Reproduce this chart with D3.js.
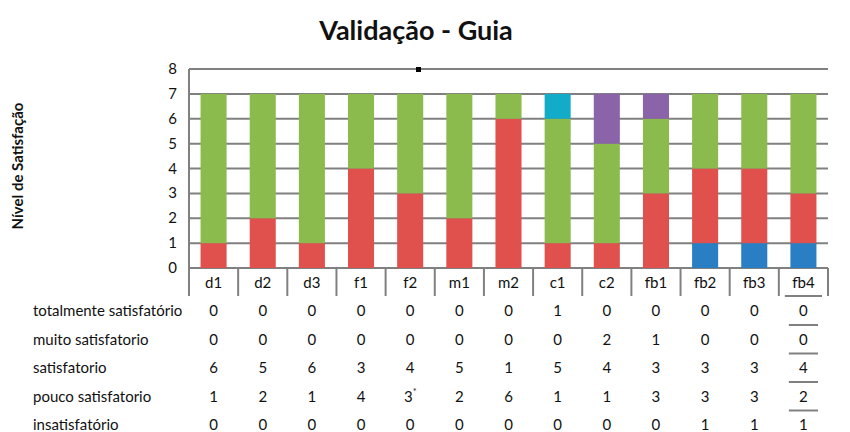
<!DOCTYPE html>
<html>
<head>
<meta charset="utf-8">
<script src="https://cdn.jsdelivr.net/npm/d3@7"></script>
<style>
  body { margin: 0; background: #fff; }
  text { font-family: Lato, "Open Sans", sans-serif; fill: #111; }
</style>
</head>
<body>
<div id="chart"></div>
<script>
var categories = ["d1", "d2", "d3", "f1", "f2", "m1", "m2", "c1", "c2", "fb1", "fb2", "fb3", "fb4"];
var totalmente = [0, 0, 0, 0, 0, 0, 0, 1, 0, 0, 0, 0, 0];
var muito = [0, 0, 0, 0, 0, 0, 0, 0, 2, 1, 0, 0, 0];
var satisfatorio = [6, 5, 6, 3, 4, 5, 1, 5, 4, 3, 3, 3, 4];
var pouco = [1, 2, 1, 4, 3, 2, 6, 1, 1, 3, 3, 3, 2];
var insatisfatorio = [0, 0, 0, 0, 0, 0, 0, 0, 0, 0, 1, 1, 1];
var yTicks = [0, 1, 2, 3, 4, 5, 6, 7, 8];

// table rows, top to bottom
var rows = [
  { name: "totalmente satisfatório", values: totalmente, color: "#12acc8" },
  { name: "muito satisfatorio", values: muito, color: "#8a63a8" },
  { name: "satisfatorio", values: satisfatorio, color: "#8bbb4c" },
  { name: "pouco satisfatorio", values: pouco, color: "#e0504d" },
  { name: "insatisfatório", values: insatisfatorio, color: "#2a7ec4" }
];

var width = 850, height = 432;
var plotLeft = 189, plotRight = 828, plotTop = 69, plotBottom = 268;
var labelRow = 296;

var svg = d3.select("#chart").append("svg")
    .attr("width", width)
    .attr("height", height);

var x = d3.scaleBand().domain(categories).range([plotLeft, plotRight]).paddingInner(0).paddingOuter(0);
var y = d3.scaleLinear().domain([0, 8]).range([plotBottom, plotTop]);
var barW = x.bandwidth() * 0.53;

// title
svg.append("text")
    .attr("x", 416).attr("y", 40)
    .attr("text-anchor", "middle")
    .style("font-size", "27px").style("font-weight", "bold")
    .text("Validação - Guia");

// y axis title
svg.append("text")
    .attr("transform", "translate(23,166) rotate(-90)")
    .attr("text-anchor", "middle")
    .style("font-size", "15px").style("font-weight", "bold")
    .text("Nível de Satisfação");

// grid lines
svg.append("g").selectAll("line").data(yTicks).enter()
    .append("line")
    .attr("x1", plotLeft).attr("x2", plotRight)
    .attr("y1", function(d) { return y(d); })
    .attr("y2", function(d) { return y(d); })
    .attr("stroke", "#808080").attr("stroke-width", 2);

// y tick labels
svg.append("g").selectAll("text").data(yTicks).enter()
    .append("text")
    .attr("x", 177)
    .attr("y", function(d) { return y(d) + 5; })
    .attr("text-anchor", "end")
    .style("font-size", "15px")
    .text(function(d) { return d; });

// stacked bars, bottom up
var stackOrder = rows.slice().reverse();
var stackData = categories.map(function(c, i) {
  var o = { cat: c };
  stackOrder.forEach(function(r) { o[r.name] = r.values[i]; });
  return o;
});
var series = d3.stack().keys(stackOrder.map(function(r) { return r.name; }))(stackData);

svg.append("g").selectAll("g").data(series).enter()
    .append("g")
    .attr("fill", function(s, i) { return stackOrder[i].color; })
    .selectAll("rect").data(function(s) { return s; }).enter()
    .append("rect")
    .attr("x", function(d) { return x(d.data.cat) + (x.bandwidth() - barW) / 2; })
    .attr("width", barW)
    .attr("y", function(d) { return y(d[1]); })
    .attr("height", function(d) { return y(d[0]) - y(d[1]); });

// marker on top line
svg.append("rect")
    .attr("x", 416).attr("y", 67).attr("width", 5).attr("height", 5)
    .attr("fill", "#000");

// axis frame: left line and category separators
svg.append("line")
    .attr("x1", plotLeft).attr("x2", plotLeft).attr("y1", plotTop).attr("y2", labelRow)
    .attr("stroke", "#808080").attr("stroke-width", 2);
svg.append("g").selectAll("line").data(categories).enter()
    .append("line")
    .attr("x1", function(d) { return x(d) + x.bandwidth(); })
    .attr("x2", function(d) { return x(d) + x.bandwidth(); })
    .attr("y1", plotBottom).attr("y2", labelRow)
    .attr("stroke", "#808080").attr("stroke-width", 2);

// category labels
svg.append("g").selectAll("text").data(categories).enter()
    .append("text")
    .attr("x", function(d) { return x(d) + x.bandwidth() / 2; })
    .attr("y", 288)
    .attr("text-anchor", "middle")
    .style("font-size", "15px")
    .text(function(d) { return d; });

// last column box bottom + underlines
var lastX = x("fb4");
svg.append("line")
    .attr("x1", lastX + 6).attr("x2", lastX + x.bandwidth() - 6)
    .attr("y1", labelRow).attr("y2", labelRow)
    .attr("stroke", "#808080").attr("stroke-width", 2);

// data table
var rowY0 = 316, rowStep = 28.5;
rows.forEach(function(r, ri) {
  var ry = rowY0 + ri * rowStep;
  svg.append("text")
      .attr("x", 33).attr("y", ry)
      .style("font-size", "15px")
      .text(r.name);
  var cells = svg.append("g").selectAll("text").data(r.values).enter()
      .append("text")
      .attr("x", function(d, i) { return x(categories[i]) + x.bandwidth() / 2; })
      .attr("y", ry)
      .attr("text-anchor", "middle")
      .style("font-size", "15px");
  cells.append("tspan").text(function(d) { return d; });
  cells.filter(function(d, i) { return r.name === "pouco satisfatorio" && categories[i] === "f2"; })
      .append("tspan")
      .attr("dy", -7)
      .style("font-size", "9px")
      .text("*");
  if (ri < rows.length - 1) {
    svg.append("line")
        .attr("x1", lastX + 10).attr("x2", lastX + x.bandwidth() - 10)
        .attr("y1", ry + 9).attr("y2", ry + 9)
        .attr("stroke", "#808080").attr("stroke-width", 2);
  }
});
</script>
</body>
</html>
